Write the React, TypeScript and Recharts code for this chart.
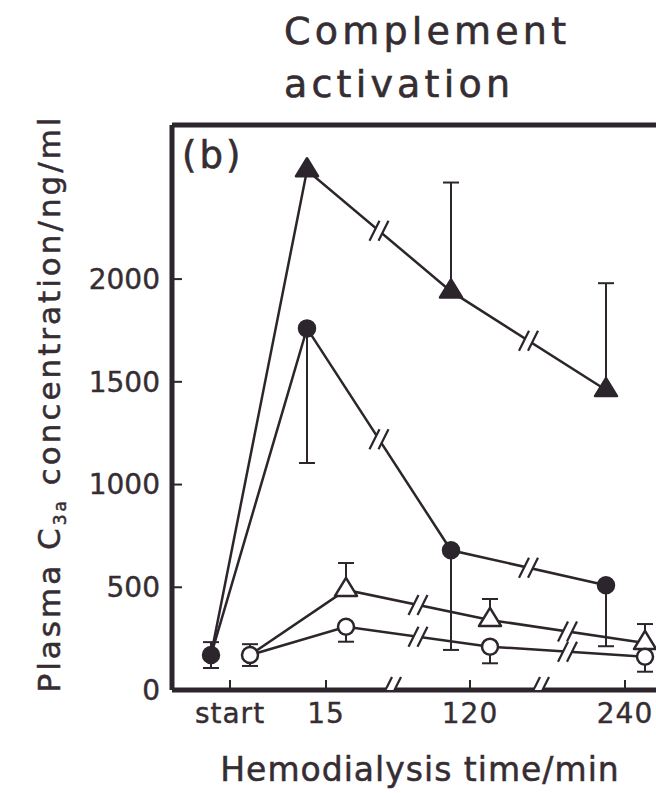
import {
  ComposedChart,
  Line,
  Scatter,
  XAxis,
  YAxis,
  ErrorBar,
  ReferenceLine,
} from 'recharts';

const INK = '#2d252c';
const TXT = '#352d32';
const FONT = '"DejaVu Sans", sans-serif';

// x positions of the four sampling times on a 0..100 scale
const timeLabels = ['start', '15', '120', '240'];
const timePos = [11.6, 30.8, 59.6, 90.6];
const yTicks = [0, 500, 1000, 1500, 2000];
const axisBreakPos = [43.6, 73.2];

// filled marks sit left of the tick, open marks right of it
const filledOffset = -3.8;
const openOffset = 4.0;

// C3a, ng/ml; errors are [below, above]
const filledTriangle = [170, 2530, 1940, 1460];
const filledTriangleErr = [null, null, [0, 530], [0, 520]];
const filledCircle = [170, 1760, 680, 510];
const filledCircleErr = [[63, 63], [655, 0], [485, 0], [297, 0]];
const openTriangle = [170, 487, 341, 229];
const openTriangleErr = [null, [0, 131], [0, 102], [0, 92]];
const openCircle = [170, 308, 211, 162];
const openCircleErr = [[53, 53], [73, 0], [81, 0], [73, 0]];

type Pt = { x: number; y: number; err: any; i: number };

const makeSeries = (vals: number[], errs: any[], offset: number): Pt[] =>
  vals.map((y, i) => ({ x: timePos[i] + offset, y, err: errs[i], i }));

const fT = makeSeries(filledTriangle, filledTriangleErr, filledOffset);
const fC = makeSeries(filledCircle, filledCircleErr, filledOffset);
const oT = makeSeries(openTriangle, openTriangleErr, openOffset);
const oC = makeSeries(openCircle, openCircleErr, openOffset);

// "//" marks halfway along the 15-120 and 120-240 segments
const lineBreaks = [fT, fC, oT, oC].flatMap((s) =>
  [1, 2].map((i) => ({ x: (s[i].x + s[i + 1].x) / 2, y: (s[i].y + s[i + 1].y) / 2 }))
);
const axisBreaks = axisBreakPos.map((x) => ({ x, y: 0 }));

function triangle(p: any, fill: string, skipFirst: boolean) {
  const { cx, cy, index } = p;
  if (skipFirst && index === 0) return <g key={`t-${index}`} />;
  const pts = `${cx},${cy - 12} ${cx + 11},${cy + 6} ${cx - 11},${cy + 6}`;
  return (
    <polygon
      key={`t-${index}`}
      points={pts}
      fill={fill}
      stroke={INK}
      strokeWidth={2.5}
      strokeLinejoin="round"
    />
  );
}

function circle(p: any, fill: string) {
  const { cx, cy, index } = p;
  return <circle key={`c-${index}`} cx={cx} cy={cy} r={8} fill={fill} stroke={INK} strokeWidth={2.5} />;
}

function breakMark(h: number, cover: number, g: number) {
  return (p: any) => {
    const { cx, cy } = p;
    const s = h * 0.5;
    const c = cover * 0.5;
    return (
      <g>
        <polygon
          points={`${cx - g - c},${cy + cover} ${cx - g + c},${cy - cover} ${cx + g + c},${cy - cover} ${cx + g - c},${cy + cover}`}
          fill="#fff"
        />
        <line x1={cx - g - s} y1={cy + h} x2={cx - g + s} y2={cy - h} stroke={INK} strokeWidth={2.2} />
        <line x1={cx + g - s} y1={cy + h} x2={cx + g + s} y2={cy - h} stroke={INK} strokeWidth={2.2} />
      </g>
    );
  };
}

function XTitle(props: any) {
  const { x, y, width } = props.viewBox;
  return (
    <text
      x={x + width / 2 - 2}
      y={y + 91}
      textAnchor="middle"
      fill={TXT}
      stroke={TXT}
      strokeWidth={0.5}
      fontSize={33}
      fontFamily={FONT}
      letterSpacing={1}
    >
      Hemodialysis time/min
    </text>
  );
}

function YTitle(props: any) {
  const { y, height } = props.viewBox;
  const cx = 60;
  const cy = y + height / 2 - 4;
  return (
    <text
      x={cx}
      y={cy}
      transform={`rotate(-90, ${cx}, ${cy})`}
      textAnchor="middle"
      fill={TXT}
      stroke={TXT}
      strokeWidth={0.5}
      fontSize={31}
      fontFamily={FONT}
      letterSpacing={3}
    >
      Plasma C
      <tspan fontSize={17} dy={6}>3a</tspan>
      <tspan dy={-6}> concentration/ng/ml</tspan>
    </text>
  );
}

const lineProps = {
  type: 'linear' as const,
  dataKey: 'y',
  stroke: INK,
  strokeWidth: 2.5,
  isAnimationActive: false,
  activeDot: false,
  legendType: 'none' as const,
};

const tickStyle = { fill: TXT, stroke: TXT, strokeWidth: 0.4, fontSize: 28, fontFamily: FONT };

export default function App() {
  return (
    <div style={{ position: 'absolute', left: 0, top: 0, width: 656, height: 793, overflow: 'hidden', background: '#fff' }}>
      <div
        style={{
          position: 'absolute',
          left: 284,
          top: 5,
          fontFamily: FONT,
          fontSize: 38,
          lineHeight: '53px',
          letterSpacing: 4.2,
          color: TXT,
          WebkitTextStroke: '0.6px ' + TXT,
        }}
      >
        Complement
        <br />
        activation
      </div>
      <div
        style={{
          position: 'absolute',
          left: 182,
          top: 134,
          fontFamily: FONT,
          fontSize: 37,
          lineHeight: '44px',
          letterSpacing: 3,
          color: TXT,
          WebkitTextStroke: '0.6px ' + TXT,
          zIndex: 2,
        }}
      >
        (b)
      </div>
      <ComposedChart width={700} height={793} margin={{ top: 125, right: 28, bottom: 0, left: 0 }}>
        <XAxis
          type="number"
          dataKey="x"
          domain={[0, 100]}
          ticks={timePos}
          interval={0}
          allowDataOverflow
          tickFormatter={(v: number) => timeLabels[timePos.indexOf(v)] ?? ''}
          height={103}
          axisLine={{ stroke: INK, strokeWidth: 5 }}
          tickLine={{ stroke: INK, strokeWidth: 2 }}
          tickSize={-10}
          tickMargin={23}
          tick={{ ...tickStyle, letterSpacing: 1 }}
          label={XTitle}
        />
        <YAxis
          type="number"
          domain={[0, 2750]}
          ticks={yTicks}
          interval={0}
          allowDataOverflow
          width={172}
          axisLine={{ stroke: INK, strokeWidth: 5 }}
          tickLine={{ stroke: INK, strokeWidth: 2 }}
          tickSize={-10}
          tickMargin={22}
          tick={tickStyle}
          label={YTitle}
        />
        <ReferenceLine y={2750} stroke={INK} strokeWidth={5} ifOverflow="visible" />

        <Line {...lineProps} data={fT} dot={(p: any) => triangle(p, INK, true)}>
          <ErrorBar dataKey="err" width={8} stroke={INK} strokeWidth={2} direction="y" />
        </Line>
        <Line {...lineProps} data={fC} dot={(p: any) => circle(p, INK)}>
          <ErrorBar dataKey="err" width={8} stroke={INK} strokeWidth={2} direction="y" />
        </Line>
        <Line {...lineProps} data={oT} dot={(p: any) => triangle(p, '#fff', true)}>
          <ErrorBar dataKey="err" width={8} stroke={INK} strokeWidth={2} direction="y" />
        </Line>
        <Line {...lineProps} data={oC} dot={(p: any) => circle(p, '#fff')}>
          <ErrorBar dataKey="err" width={8} stroke={INK} strokeWidth={2} direction="y" />
        </Line>

        <Scatter data={lineBreaks} dataKey="y" shape={breakMark(10, 7, 4.5)} isAnimationActive={false} legendType="none" />
        <Scatter data={axisBreaks} dataKey="y" shape={breakMark(13, 5, 4.5)} isAnimationActive={false} legendType="none" />
      </ComposedChart>
    </div>
  );
}
